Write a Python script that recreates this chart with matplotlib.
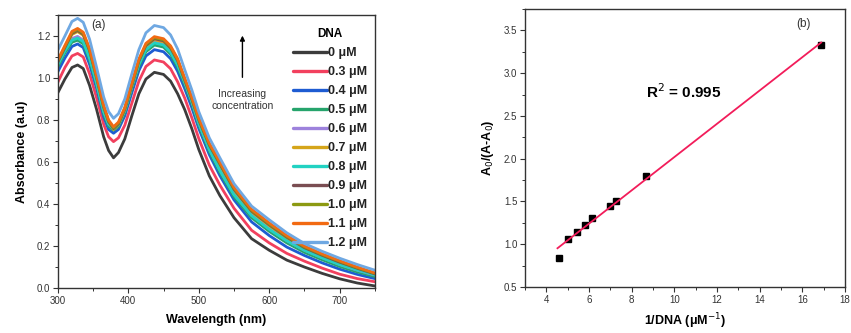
import numpy as np
import matplotlib
matplotlib.use('Agg')
import matplotlib.pyplot as plt
from matplotlib.ticker import MultipleLocator

plt.rcParams['font.family'] = ['Liberation Sans', 'DejaVu Sans']

# UV-vis spectra, absorbance vs wavelength for each DNA concentration
wavelength = [300, 310, 320, 328, 336, 345, 355, 365, 372, 379, 386, 395, 405, 415, 425, 437,
              450, 460, 470, 480, 490, 500, 515, 530, 550, 575, 600, 625, 650, 675, 700, 725, 750]

abs_00 = [0.93, 0.995, 1.05, 1.062, 1.045, 0.965, 0.85, 0.72, 0.655, 0.62, 0.645, 0.71, 0.82, 0.925, 0.995, 1.027,
          1.017, 0.985, 0.925, 0.85, 0.76, 0.66, 0.534, 0.44, 0.335, 0.235, 0.18, 0.133, 0.10, 0.07, 0.044, 0.024, 0.01]
abs_03 = [0.98, 1.05, 1.105, 1.117, 1.1, 1.02, 0.905, 0.78, 0.72, 0.697, 0.715, 0.775, 0.88, 0.985, 1.055, 1.086,
          1.076, 1.044, 0.982, 0.905, 0.812, 0.712, 0.585, 0.49, 0.38, 0.275, 0.215, 0.165, 0.128, 0.095, 0.066, 0.045, 0.03]
abs_04 = [1.03, 1.095, 1.15, 1.162, 1.145, 1.065, 0.95, 0.815, 0.755, 0.737, 0.755, 0.82, 0.93, 1.035, 1.105, 1.135,
          1.125, 1.092, 1.032, 0.95, 0.86, 0.76, 0.635, 0.535, 0.42, 0.315, 0.25, 0.195, 0.155, 0.12, 0.09, 0.065, 0.045]
abs_05 = [1.054, 1.12, 1.17, 1.18, 1.163, 1.085, 0.965, 0.83, 0.77, 0.752, 0.77, 0.835, 0.95, 1.055, 1.125, 1.157,
          1.147, 1.113, 1.052, 0.97, 0.88, 0.775, 0.65, 0.55, 0.435, 0.335, 0.27, 0.215, 0.17, 0.135, 0.103, 0.077, 0.055]
abs_06 = [1.07, 1.135, 1.188, 1.198, 1.18, 1.102, 0.98, 0.843, 0.782, 0.762, 0.78, 0.847, 0.962, 1.069, 1.14, 1.172,
          1.162, 1.128, 1.067, 0.982, 0.892, 0.787, 0.662, 0.562, 0.447, 0.347, 0.282, 0.226, 0.18, 0.145, 0.112, 0.085, 0.062]
abs_07 = [1.071, 1.14, 1.207, 1.221, 1.203, 1.125, 0.995, 0.857, 0.787, 0.755, 0.777, 0.847, 0.96, 1.075, 1.15, 1.182,
          1.172, 1.138, 1.077, 0.985, 0.895, 0.795, 0.675, 0.585, 0.466, 0.362, 0.297, 0.238, 0.188, 0.152, 0.12, 0.091, 0.064]
abs_08 = [1.064, 1.13, 1.18, 1.19, 1.173, 1.095, 0.975, 0.84, 0.78, 0.76, 0.778, 0.845, 0.96, 1.065, 1.135, 1.167,
          1.157, 1.123, 1.062, 0.98, 0.89, 0.785, 0.66, 0.56, 0.445, 0.345, 0.28, 0.225, 0.18, 0.144, 0.112, 0.086, 0.063]
abs_09 = [1.076, 1.145, 1.212, 1.226, 1.208, 1.13, 1.0, 0.861, 0.791, 0.759, 0.781, 0.851, 0.965, 1.08, 1.155, 1.187,
          1.177, 1.143, 1.082, 0.99, 0.9, 0.8, 0.68, 0.59, 0.47, 0.366, 0.301, 0.242, 0.192, 0.156, 0.123, 0.094, 0.067]
abs_10 = [1.081, 1.15, 1.217, 1.231, 1.213, 1.135, 1.005, 0.866, 0.796, 0.763, 0.786, 0.856, 0.97, 1.085, 1.16, 1.192,
          1.182, 1.148, 1.087, 0.995, 0.905, 0.805, 0.685, 0.595, 0.475, 0.37, 0.305, 0.246, 0.196, 0.16, 0.127, 0.097, 0.07]
abs_11 = [1.086, 1.155, 1.222, 1.236, 1.218, 1.14, 1.01, 0.87, 0.8, 0.768, 0.79, 0.86, 0.975, 1.09, 1.165, 1.197,
          1.187, 1.153, 1.092, 1.0, 0.91, 0.81, 0.69, 0.6, 0.48, 0.375, 0.31, 0.25, 0.2, 0.163, 0.13, 0.1, 0.072]
abs_12 = [1.133, 1.2, 1.269, 1.284, 1.265, 1.185, 1.05, 0.91, 0.84, 0.808, 0.83, 0.9, 1.02, 1.135, 1.215, 1.25,
          1.24, 1.205, 1.138, 1.04, 0.945, 0.84, 0.715, 0.62, 0.497, 0.39, 0.325, 0.263, 0.212, 0.175, 0.142, 0.112, 0.085]

spectra = [abs_00, abs_03, abs_04, abs_05, abs_06, abs_07, abs_08, abs_09, abs_10, abs_11, abs_12]
conc_labels = ['0 μM', '0.3 μM', '0.4 μM', '0.5 μM', '0.6 μM', '0.7 μM',
               '0.8 μM', '0.9 μM', '1.0 μM', '1.1 μM', '1.2 μM']
colors = ['#3c3c3c', '#f2405e', '#1e5cd2', '#26a46c', '#9d82dc', '#d5a51a',
          '#22d2c2', '#7a4d52', '#8c9a12', '#f26a12', '#6fa8e2']

# Benesi-Hildebrand plot
inv_dna = [4.57, 5.0, 5.44, 5.80, 6.12, 6.99, 7.26, 8.68, 16.88]
a_ratio = [0.835, 1.057, 1.145, 1.22, 1.309, 1.453, 1.503, 1.80, 3.33]

fig = plt.figure(figsize=(8.51, 3.33), dpi=100)
ax1 = fig.add_axes([0.068, 0.135, 0.3725, 0.82])
ax2 = fig.add_axes([0.617, 0.138, 0.376, 0.835])

for y, c, lab in zip(spectra, colors, conc_labels):
    ax1.plot(wavelength, y, color=c, lw=2.0, label=lab,
             solid_capstyle='round', solid_joinstyle='round')

ax1.set_xlim(300, 750)
ax1.set_ylim(0, 1.3)
ax1.xaxis.set_major_locator(MultipleLocator(100))
ax1.xaxis.set_minor_locator(MultipleLocator(50))
ax1.yaxis.set_major_locator(MultipleLocator(0.2))
ax1.yaxis.set_minor_locator(MultipleLocator(0.1))
ax1.set_xlabel('Wavelength (nm)', fontsize=9, fontweight='bold', labelpad=6)
ax1.set_ylabel('Absorbance (a.u)', fontsize=9, fontweight='bold', labelpad=6)
ax1.text(357, 1.25, '(a)', fontsize=8.5, ha='center', va='center', color='#333333')

ax1.annotate('', xy=(562, 1.215), xytext=(562, 0.99),
             arrowprops=dict(arrowstyle='-|>', color='black', lw=1.0, mutation_scale=7))
ax1.text(562, 0.895, 'Increasing\nconcentration', fontsize=7.5, ha='center', va='center',
         color='#333333', linespacing=1.15)

leg = ax1.legend(loc='upper right', bbox_to_anchor=(1.0, 0.98), frameon=False,
                 title='DNA', fontsize=9, handlelength=2.75, handletextpad=0.05,
                 labelspacing=0.56, borderaxespad=0.2)
leg.get_title().set_fontweight('bold')
leg.get_title().set_fontsize(8.5)
for t in leg.get_texts():
    t.set_fontweight('bold')
    t.set_color('#222222')
for h in leg.get_lines():
    h.set_linewidth(2.4)

ax2.plot(inv_dna, a_ratio, 's', color='black', ms=4.5)
slope, intercept = np.polyfit(inv_dna, a_ratio, 1)
xfit = np.array([min(inv_dna) - 0.05, max(inv_dna)])
ax2.plot(xfit, slope * xfit + intercept, color='#f21c5a', lw=1.3)

ax2.set_xlim(3, 18)
ax2.set_ylim(0.5, 3.75)
ax2.xaxis.set_major_locator(MultipleLocator(2))
ax2.xaxis.set_minor_locator(MultipleLocator(1))
ax2.yaxis.set_major_locator(MultipleLocator(0.5))
ax2.yaxis.set_minor_locator(MultipleLocator(0.25))
ax2.set_xlabel('1/DNA (μM$^{-1}$)', fontsize=9, fontweight='bold', labelpad=5)
ax2.set_ylabel('A$_0$/(A-A$_0$)', fontsize=9, fontweight='bold', labelpad=6)
ax2.text(8.68, 2.78, 'R$^2$ = 0.995', fontsize=11, fontweight='bold', ha='left', va='center')
ax2.text(16.05, 3.58, '(b)', fontsize=8.5, ha='center', va='center', color='#333333')

for ax in (ax1, ax2):
    ax.tick_params(which='major', direction='out', length=3.5, width=0.8,
                   labelsize=7, colors='#333333', pad=2)
    ax.tick_params(which='minor', direction='out', length=2, width=0.7, colors='#333333')
    for s in ax.spines.values():
        s.set_linewidth(1.0)
        s.set_color('#333333')

fig.savefig('out.png', dpi=100)
